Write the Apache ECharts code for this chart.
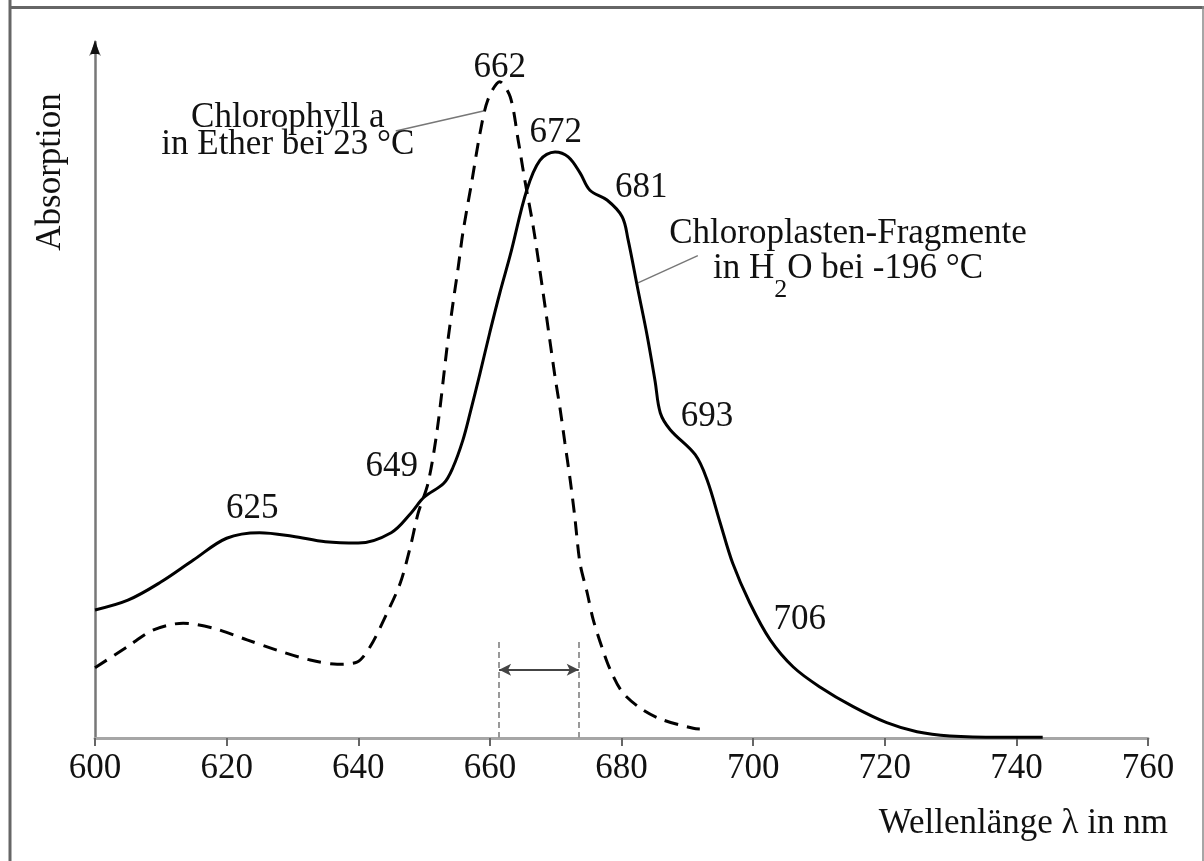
<!DOCTYPE html>
<html>
<head>
<meta charset="utf-8">
<script src="https://cdn.jsdelivr.net/npm/echarts@6/dist/echarts.min.js"></script>
<style>
  html, body { margin: 0; padding: 0; background: #fff; }
  #chart { width: 1204px; height: 861px; }
</style>
</head>
<body>
<div id="chart"></div>
<script>
// Chloroplasten-Fragmente in H2O bei -196 °C (solid)
const solidNm = [600, 605, 610, 615, 620, 625, 630, 635, 640, 645, 648, 650, 653, 654.4, 655.9, 657, 658.5, 660, 661.5, 663.1, 665.6, 667.6, 669.9, 671.9, 673.7, 675.2, 677.8, 680.1, 681, 682.5, 683.9, 685.1, 685.9, 687.4, 691.2, 693, 695, 696.9, 699.5, 702.6, 706.1, 710.2, 715.2, 720.3, 724.9, 729.9, 737.5, 744];
const solidAbs = [18.4, 19.8, 22.4, 25.6, 28.7, 29.5, 29.0, 28.2, 28.0, 29.5, 32.3, 34.6, 36.6, 38.9, 42.8, 46.7, 52.4, 58.3, 63.9, 69.4, 78.7, 83.0, 84.2, 83.5, 81.2, 78.7, 77.3, 74.9, 71.6, 64.4, 57.8, 51.3, 46.7, 44.3, 40.7, 37.1, 30.9, 25.1, 19.4, 14.1, 10.2, 7.3, 4.5, 2.2, 0.9, 0.3, 0.1, 0.1];

// Chlorophyll a in Ether bei 23 °C (dashed)
const dashedNm = [600, 604.9, 608.8, 613.4, 617.9, 623.1, 627.7, 632.7, 636.8, 639.8, 641.8, 644.4, 646.4, 647.9, 649.1, 650.6, 652, 653.5, 654.4, 655.2, 655.9, 657.3, 658.5, 659.7, 661.5, 663.1, 664.3, 665.3, 666.6, 668.1, 669.1, 669.9, 670.7, 671.4, 672.2, 672.9, 673.7, 674.8, 675.7, 677, 678.3, 680.2, 683.3, 686.3, 690.9, 691.9];
const dashedAbs = [10.1, 13.1, 15.5, 16.5, 15.8, 14.1, 12.6, 11.2, 10.6, 10.9, 13.1, 18.0, 22.3, 27.4, 32.3, 36.6, 44.3, 56.2, 62.5, 67.7, 72.6, 80.2, 86.9, 91.7, 94.3, 92.1, 85.9, 80.2, 73.4, 63.9, 57.2, 51.9, 47.1, 42.4, 37.1, 31.8, 25.1, 20.8, 17.0, 13.1, 9.8, 6.5, 4.0, 2.6, 1.4, 1.3];

// peak labels
const peakText = ['625', '649', '662', '672', '681', '693', '706'];
const peakNm = [623.9, 645.1, 661.5, 670.0, 683.0, 693.0, 707.1];
const peakAbs = [33.0, 38.9, 96.3, 86.9, 79.0, 46.1, 17.0];

// half width marker
const halfWidth = [661.4, 673.5];
const halfWidthTop = 14.1;
const halfWidthArrowY = 9.8;

const xTicks = [600, 620, 640, 660, 680, 700, 720, 740, 760];

const FONT = '"Liberation Serif", "DejaVu Serif", serif';
const INK = '#111';

const chart = echarts.init(document.getElementById('chart'));

const zip = (xs, ys) => xs.map((x, i) => [x, ys[i]]);

const option = {
  animation: false,
  backgroundColor: '#fff',
  grid: { left: 95, right: 56, top: 42, bottom: 123, outerBoundsMode: 'none' },
  xAxis: {
    type: 'value',
    min: xTicks[0],
    max: xTicks[xTicks.length - 1],
    interval: 20,
    axisLine: { show: true, lineStyle: { color: '#a6a6a6', width: 3 } },
    axisTick: { show: true, length: 8, lineStyle: { color: '#666', width: 2 } },
    axisLabel: { color: INK, fontFamily: FONT, fontSize: 35, margin: 13 },
    splitLine: { show: false }
  },
  yAxis: {
    type: 'value',
    min: 0,
    max: 100,
    axisLine: {
      show: true,
      symbol: ['none', 'arrow'],
      symbolSize: [9, 14],
      lineStyle: { color: '#777', width: 2.5 }
    },
    axisTick: { show: false },
    axisLabel: { show: false },
    splitLine: { show: false }
  },
  graphic: [
    { type: 'line', shape: { x1: 10, y1: 0, x2: 10, y2: 861 }, style: { stroke: '#666', lineWidth: 3 } },
    { type: 'line', shape: { x1: 9, y1: 7.5, x2: 1204, y2: 7.5 }, style: { stroke: '#666', lineWidth: 3 } },
    { type: 'line', shape: { x1: 1203, y1: 6, x2: 1203, y2: 861 }, style: { stroke: '#888', lineWidth: 1.5 } },
    // black arrow head over the y axis tip
    { type: 'polygon', shape: { points: [[95, 40], [90.5, 54], [99.5, 54]] }, style: { fill: '#111' }, z: 10 },
    {
      type: 'text', x: 51, y: 172, rotation: Math.PI / 2,
      style: { text: 'Absorption', font: '35px ' + FONT, fill: INK, align: 'center', verticalAlign: 'middle' }
    },
    {
      type: 'text', x: 1168, y: 824,
      style: { text: 'Wellenlänge λ in nm', font: '35px ' + FONT, fill: INK, align: 'right', verticalAlign: 'middle' }
    }
  ],
  series: [
    {
      name: 'Chloroplasten-Fragmente',
      type: 'line',
      data: zip(solidNm, solidAbs),
      showSymbol: false,
      smooth: 0.35,
      lineStyle: { color: '#000', width: 3 },
      z: 3,
      markLine: {
        silent: true,
        symbol: 'none',
        label: { show: false },
        lineStyle: { color: '#777', width: 1.5, type: 'solid' },
        data: [
          [{ coord: [682.5, 65.4] }, { coord: [691.6, 69.3] }]
        ]
      }
    },
    {
      name: 'Chlorophyll a',
      type: 'line',
      data: zip(dashedNm, dashedAbs),
      showSymbol: false,
      smooth: 0.3,
      lineStyle: { color: '#000', width: 3, type: [14, 9] },
      z: 3,
      markLine: {
        silent: true,
        symbol: 'none',
        label: { show: false },
        data: [
          [{ coord: [645.7, 87.2] }, { coord: [659.0, 90.1] }],
          [{ coord: [halfWidth[0], 0], lineStyle: { color: '#999', width: 2, type: [6, 4] } },
           { coord: [halfWidth[0], halfWidthTop] }],
          [{ coord: [halfWidth[1], 0], lineStyle: { color: '#999', width: 2, type: [6, 4] } },
           { coord: [halfWidth[1], halfWidthTop] }],
          [{ coord: [halfWidth[0], halfWidthArrowY], symbol: 'arrow', symbolSize: [9, 12], lineStyle: { color: '#444', width: 2, type: 'solid' } },
           { coord: [halfWidth[1], halfWidthArrowY], symbol: 'arrow', symbolSize: [9, 12] }]
        ],
        lineStyle: { color: '#777', width: 1.5, type: 'solid' }
      }
    },
    {
      name: 'labels',
      type: 'scatter',
      symbolSize: 1,
      itemStyle: { color: 'rgba(0,0,0,0)', opacity: 1 },
      silent: true,
      z: 5,
      label: {
        show: true,
        position: 'inside',
        color: INK,
        opacity: 1,
        textBorderWidth: 0,
        fontFamily: FONT,
        fontSize: 35,
        formatter: p => p.name
      },
      data: peakText.map((t, i) => ({ name: t, value: [peakNm[i], peakAbs[i]] })).concat([
        {
          name: 'Chlorophyll a\nin Ether bei 23 °C',
          value: [629.3, 87.1],
          label: { lineHeight: 27, align: 'center' }
        },
        {
          name: 'chloroplast',
          value: [600 + (848 - 95) / 6.58125, (738 - 216) / 6.96],
          label: {
            verticalAlign: 'top',
            align: 'center',
            formatter: '{a|Chloroplasten-Fragmente}\n{a|in H}{s|2}{a|O bei -196 °C}',
            rich: {
              a: { fontFamily: FONT, fontSize: 35, color: INK, lineHeight: 35, verticalAlign: 'top' },
              s: { fontFamily: FONT, fontSize: 26, color: INK, lineHeight: 20, verticalAlign: 'top', padding: [26, 0, 0, 0] }
            }
          }
        }
      ])
    }
  ]
};

chart.setOption(option);
</script>
</body>
</html>
